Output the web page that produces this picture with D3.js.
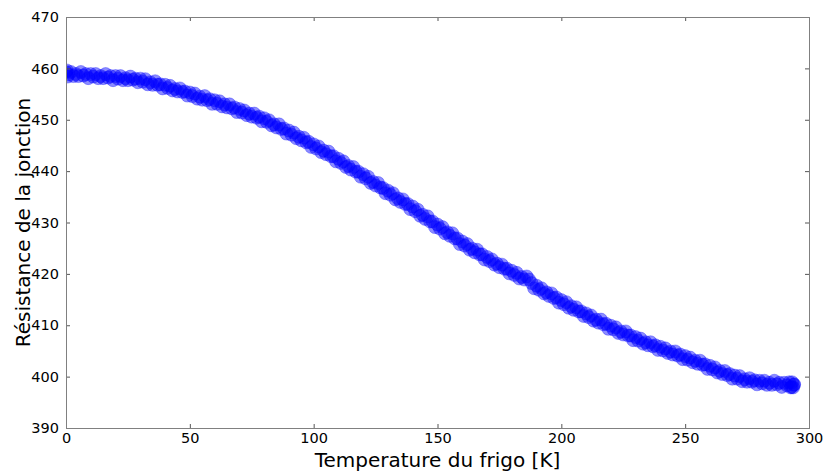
<!DOCTYPE html>
<html>
<head>
<meta charset="utf-8">
<script src="https://cdn.jsdelivr.net/npm/d3@7"></script>
<style>
  body { margin: 0; background: #fff; }
  svg { font-family: "DejaVu Sans", sans-serif; }
</style>
</head>
<body>
<svg id="chart"></svg>
<script>
// fridge temperature [K]
const temps = d3.range(0, 295).concat([0.3, 0.6, 292.6, 293.2, 293.6, 293.9]);

// junction resistance (one value per K, then a few extra at both ends)
const resist = [
  459.3,458.8,459.3,458.5,458.9,458.5,459.3,458.6,458.9,458.1,
  458.9,458.4,458.9,458.1,458.5,458.1,458.9,458.2,458.5,457.7,
  458.5,458.0,458.5,457.7,458.1,457.7,458.4,457.8,458.0,457.3,
  458.0,457.4,457.9,456.9,457.3,456.8,457.5,456.8,456.9,456.1,
  456.8,456.2,456.6,455.7,456.0,455.5,456.1,455.4,455.5,454.7,
  455.3,454.6,455.1,454.1,454.5,453.9,454.6,453.8,454.0,453.1,
  453.8,453.1,453.6,452.6,453.0,452.4,453.0,452.2,452.4,451.5,
  452.1,451.4,451.8,450.9,451.2,450.6,451.2,450.4,450.6,449.7,
  450.3,449.6,449.9,448.9,449.1,448.5,449.1,448.2,448.3,447.3,
  447.9,447.1,447.5,446.4,446.7,446.0,446.5,445.6,445.7,444.7,
  445.2,444.4,444.8,443.7,444.0,443.3,443.8,442.9,442.9,441.9,
  442.4,441.6,441.9,440.8,441.0,440.3,440.8,439.9,439.9,438.9,
  439.4,438.6,438.9,437.7,437.9,437.2,437.7,436.8,436.7,435.7,
  436.2,435.4,435.7,434.5,434.7,434.0,434.5,433.6,433.6,432.6,
  433.1,432.2,432.5,431.3,431.5,430.7,431.2,430.2,430.2,429.1,
  429.6,428.8,429.1,427.9,428.1,427.4,427.9,426.9,426.9,425.8,
  426.3,425.5,425.8,424.7,424.9,424.2,424.7,423.8,423.8,422.8,
  423.3,422.5,422.8,421.8,422.0,421.3,421.8,421.0,421.0,420.1,
  420.6,419.8,420.2,419.1,419.4,418.9,419.5,418.9,418.2,417.2,
  417.7,416.9,417.2,416.2,416.4,415.7,416.2,415.3,415.4,414.4,
  414.9,414.1,414.5,413.4,413.7,413.0,413.5,412.7,412.7,411.8,
  412.3,411.6,411.9,410.9,411.1,410.5,411.1,410.2,410.3,409.3,
  409.9,409.2,409.6,408.5,408.8,408.2,408.8,408.0,408.0,407.1,
  407.7,407.0,407.4,406.4,406.7,406.1,406.7,405.9,406.1,405.2,
  405.8,405.1,405.5,404.6,404.9,404.3,404.9,404.1,404.3,403.4,
  404.0,403.3,403.7,402.8,403.1,402.5,403.1,402.3,402.4,401.5,
  402.1,401.4,401.8,400.8,401.1,400.5,401.1,400.3,400.5,399.6,
  400.2,399.6,400.1,399.1,399.5,399.0,399.7,399.0,399.3,398.5,
  399.2,398.7,399.2,398.4,398.8,398.4,399.2,398.5,398.8,398.0,
  398.8,398.3,398.9,398.0,398.5,
  459.6,458.4,397.9,398.9,397.9,398.4
];

const xTicks = [0, 50, 100, 150, 200, 250, 300];
const yTicks = [390, 400, 410, 420, 430, 440, 450, 460, 470];

const data = temps.map((t, i) => ({ t: t, r: resist[i] }));

const config = {
  containerWidth: 827,
  containerHeight: 475,
  margin: { top: 17, bottom: 47, right: 18, left: 66 }
};

const width = config.containerWidth - config.margin.left - config.margin.right;
const height = config.containerHeight - config.margin.top - config.margin.bottom;

const svg = d3.select('#chart')
    .attr('width', config.containerWidth)
    .attr('height', config.containerHeight);

const chart = svg.append('g')
    .attr('transform', `translate(${config.margin.left},${config.margin.top})`);

const xScale = d3.scaleLinear().domain([0, 300]).range([0, width]);
const yScale = d3.scaleLinear().domain([390, 470]).range([height, 0]);

chart.append('clipPath').attr('id', 'clip')
  .append('rect')
    .attr('width', width)
    .attr('height', height);

// scatter points
chart.append('g')
    .attr('clip-path', 'url(#clip)')
  .selectAll('circle')
  .data(data)
  .join('circle')
    .attr('cx', d => xScale(d.t))
    .attr('cy', d => yScale(d.r))
    .attr('r', 6.5)
    .attr('fill', 'rgba(0,0,255,0.45)')
    .attr('stroke', 'rgba(0,0,255,0.3)')
    .attr('stroke-width', 1);

// axes, matplotlib classic look: ticks inside on all four sides
const tickLen = 4;
function styleAxis(g) {
  g.select('.domain').remove();
  g.selectAll('.tick line').attr('stroke', '#555');
  g.selectAll('.tick text')
      .attr('fill', '#000')
      .style('font-size', '14.5px')
      .style('font-family', '"DejaVu Sans", sans-serif');
}

chart.append('g')
    .attr('transform', `translate(0,${height})`)
    .call(d3.axisBottom(xScale).tickValues(xTicks).tickSize(-tickLen).tickPadding(5))
    .call(styleAxis);

chart.append('g')
    .call(d3.axisTop(xScale).tickValues(xTicks).tickSize(-tickLen).tickFormat(''))
    .call(styleAxis);

chart.append('g')
    .call(d3.axisLeft(yScale).tickValues(yTicks).tickSize(-tickLen).tickPadding(7))
    .call(styleAxis);

chart.append('g')
    .attr('transform', `translate(${width},0)`)
    .call(d3.axisRight(yScale).tickValues(yTicks).tickSize(-tickLen).tickFormat(''))
    .call(styleAxis);

// frame
chart.append('rect')
    .attr('x', 0.5)
    .attr('y', 0.5)
    .attr('width', width)
    .attr('height', height)
    .attr('fill', 'none')
    .attr('stroke', '#808080')
    .attr('stroke-width', 1);

// labels
svg.append('text')
    .attr('x', config.margin.left + width / 2)
    .attr('y', config.containerHeight - 8)
    .attr('text-anchor', 'middle')
    .style('font-size', '20px')
    .text('Temperature du frigo [K]');

svg.append('text')
    .attr('transform', `translate(30,${config.margin.top + height / 2}) rotate(-90)`)
    .attr('text-anchor', 'middle')
    .style('font-size', '20px')
    .text('Résistance de la jonction');
</script>
</body>
</html>
